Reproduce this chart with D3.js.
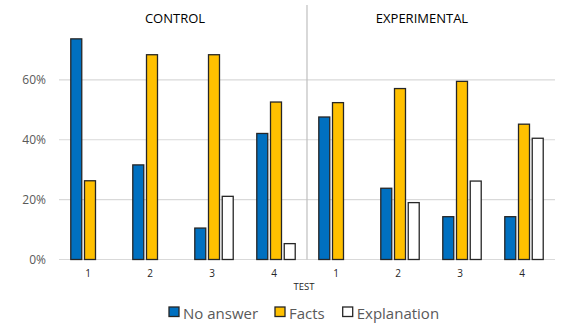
<!DOCTYPE html>
<html>
<head>
<meta charset="utf-8">
<script src="https://cdn.jsdelivr.net/npm/d3@7"></script>
<style>
  body { margin: 0; background: #fff; }
  text { font-family: "Open Sans", sans-serif; }
</style>
</head>
<body>
<script>
var width = 588;
var height = 330;

// Data.
var groups = ['CONTROL', 'EXPERIMENTAL'];
var tests = ['1', '2', '3', '4'];
var series = ['No answer', 'Facts', 'Explanation'];
var noAnswer = [0.737, 0.316, 0.105, 0.421, 0.476, 0.238, 0.143, 0.143];
var facts = [0.263, 0.684, 0.684, 0.526, 0.524, 0.571, 0.595, 0.452];
var explanation = [0, 0, 0.211, 0.053, 0, 0.190, 0.262, 0.405];
var yTicks = [0, 0.2, 0.4, 0.6];

var colors = d3.scaleOrdinal()
  .domain(series)
  .range(['#0070c0', '#ffc000', '#ffffff']);

// Category list: one slot per group/test pair.
var cats = [];
groups.forEach(function(g) {
  tests.forEach(function(t) { cats.push(g + '|' + t); });
});
var rows = cats.map(function(c, i) {
  return {cat: c, test: c.split('|')[1], values: [noAnswer[i], facts[i], explanation[i]]};
});

var svg = d3.select('body')
  .append('svg')
  .attr('width', width)
  .attr('height', height);

var x0 = d3.scaleBand()
  .domain(cats)
  .range([59, 555])
  .paddingInner(0.38)
  .paddingOuter(0.19);

var x1 = d3.scaleBand()
  .domain(series)
  .range([0, x0.bandwidth()])
  .paddingInner(0.2);

var y = d3.scaleLinear()
  .domain([0, 0.8])
  .range([259.5, 20]);

// Gridlines.
svg.append('g')
  .selectAll('line')
  .data(yTicks)
  .enter().append('line')
  .attr('x1', 59)
  .attr('x2', 555)
  .attr('y1', function(d) { return y(d); })
  .attr('y2', function(d) { return y(d); })
  .attr('stroke', '#d9d9d9')
  .attr('stroke-width', 1.2);

// Y axis labels.
var yAxis = svg.append('g')
  .attr('transform', 'translate(50,0)')
  .call(d3.axisLeft(y).tickValues(yTicks).tickFormat(d3.format('.0%')).tickSize(0));
yAxis.select('.domain').remove();
yAxis.selectAll('text')
  .attr('x', -4)
  .attr('fill', '#595959')
  .attr('font-size', 12)
  .style('font-family', '"Open Sans", sans-serif');

// Divider between groups.
var divX = (x0(cats[3]) + x0.bandwidth() + x0(cats[4])) / 2;
svg.append('line')
  .attr('x1', divX)
  .attr('x2', divX)
  .attr('y1', 5)
  .attr('y2', y(0))
  .attr('stroke', '#bfbfbf')
  .attr('stroke-width', 1.2);

// Bars.
var cat = svg.append('g')
  .selectAll('g')
  .data(rows)
  .enter().append('g')
  .attr('transform', function(d) { return 'translate(' + x0(d.cat) + ',0)'; });

cat.selectAll('rect')
  .data(function(d) {
    return d.values
      .map(function(v, i) { return {key: series[i], value: v}; })
      .filter(function(b) { return b.value > 0; });
  })
  .enter().append('rect')
  .attr('x', function(d) { return x1(d.key); })
  .attr('y', function(d) { return y(d.value); })
  .attr('width', x1.bandwidth())
  .attr('height', function(d) { return y(0) - y(d.value); })
  .attr('fill', function(d) { return colors(d.key); })
  .attr('stroke', '#262626')
  .attr('stroke-width', 1.3);

// Test labels.
svg.append('g')
  .selectAll('text')
  .data(rows)
  .enter().append('text')
  .attr('x', function(d) { return x0(d.cat) + x0.bandwidth() / 2 - 2; })
  .attr('y', 277)
  .attr('text-anchor', 'middle')
  .attr('font-size', 10)
  .attr('fill', '#262626')
  .text(function(d) { return d.test; });

svg.append('text')
  .attr('x', divX - 3)
  .attr('y', 290)
  .attr('text-anchor', 'middle')
  .attr('font-size', 9.5)
  .attr('fill', '#262626')
  .text('TEST');

// Group titles.
svg.append('g')
  .selectAll('text')
  .data(groups)
  .enter().append('text')
  .attr('x', function(d, i) { return [175, 422][i]; })
  .attr('y', 22.7)
  .attr('text-anchor', 'middle')
  .attr('font-size', 13)
  .attr('fill', '#000')
  .text(function(d) { return d; });

// Legend.
var legendX = [169, 275, 342.7];
var legend = svg.append('g')
  .selectAll('g')
  .data(series)
  .enter().append('g')
  .attr('transform', function(d, i) { return 'translate(' + legendX[i] + ',307)'; });

legend.append('rect')
  .attr('width', 10)
  .attr('height', 9.5)
  .attr('fill', function(d) { return colors(d); })
  .attr('stroke', '#262626')
  .attr('stroke-width', 1.3);

legend.append('text')
  .attr('x', 14)
  .attr('y', 11.5)
  .attr('font-size', 15)
  .attr('fill', '#595959')
  .text(function(d) { return d; });
</script>
</body>
</html>
